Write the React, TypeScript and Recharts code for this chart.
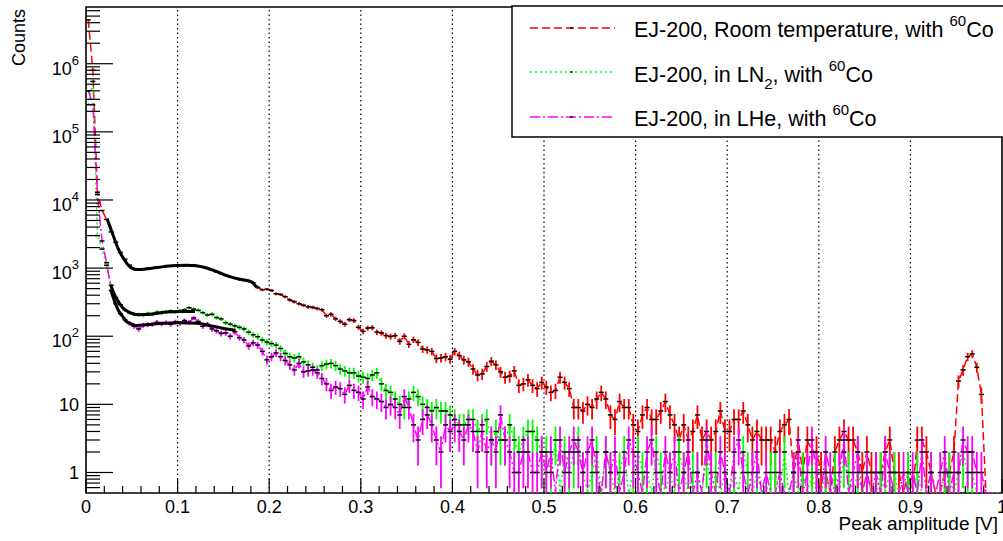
import { ErrorBar, Line, LineChart, ReferenceArea, ReferenceLine, XAxis, YAxis } from "recharts"

const BIN_WIDTH = 0.005

// EJ-200, room temperature, 60Co
const RT_COUNTS = [
  4.4e6, 8e5, 1.3e4, 7000, 5200, 3400, 2400, 1700, 1350, 1100,
  980, 950, 960, 990, 1010, 1030, 1040, 1060, 1070, 1080,
  1090, 1090, 1100, 1120, 1080, 1030, 1000, 950, 880, 830,
  780, 740, 710, 680, 660, 640, 610, 520, 480, 490,
  470, 420, 410, 380, 340, 320, 300, 285, 270, 265,
  255, 245, 200, 210, 180, 165, 150, 175, 170, 135,
  118, 132, 134, 115, 112, 102, 99, 102, 84, 100,
  76, 89, 81, 65, 63, 60, 47, 48, 50, 46,
  60, 52, 45, 42, 33, 27, 28, 36, 43, 38,
  30, 25, 26, 31, 19, 20, 23, 19, 17, 21,
  18, 15, 16, 25, 21, 17, 9, 9, 8, 10,
  9, 12, 15, 12, 7, 6, 11, 9, 9, 5,
  4, 7, 9, 6, 6, 8, 11, 7, 5, 3,
  5, 3, 4, 7, 3, 4, 3, 4, 8, 4,
  4, 6, 6, 8, 5, 3, 4, 3, 3, 3,
  2, 4, 5, 6, 1, 3, 1, 3, 2, 2,
  1, 1, 0, 2, 3, 4, 3, 3, 2, 1,
  2, 1, 1, 1, 2, 3, 1, 1, 0, 1,
  0, 3, 3, 2, 1, 0, 0, 1, 1, 2,
  22, 32, 50, 55, 35, 14, 0, 0, 0, 0,
]

// EJ-200, in LN2, 60Co
const LN2_COUNTS = [
  2.5e5, 5.5e5, 3000, 1900, 1100, 560, 370, 290, 245, 222,
  212, 207, 205, 215, 212, 225, 220, 228, 235, 228,
  238, 245, 262, 250, 240, 222, 205, 210, 188, 180,
  158, 150, 142, 135, 128, 115, 105, 98, 88, 82,
  78, 74, 66, 56, 50, 48, 50, 42, 38, 35,
  32, 37, 39, 40, 37, 33, 31, 29, 29, 26,
  25, 24, 27, 29, 20, 16, 15, 12, 10, 9,
  12, 15, 13, 10, 9, 8, 9, 8, 8, 7,
  6, 5, 5, 6, 6, 4, 5, 6, 3, 4,
  3, 3, 5, 3, 2, 3, 4, 4, 3, 2,
  2, 1, 3, 0, 2, 1, 2, 3, 1, 0,
  1, 2, 0, 2, 1, 0, 1, 2, 0, 1,
  2, 1, 1, 0, 2, 1, 0, 1, 0, 2,
  1, 0, 1, 1, 0, 2, 0, 1, 0, 1,
  0, 1, 0, 2, 1, 0, 1, 0, 0, 1,
  1, 0, 2, 0, 1, 0, 1, 0, 1, 0,
  0, 1, 0, 1, 0, 2, 1, 0, 1, 0,
  1, 0, 0, 1, 0, 1, 1, 0, 0, 1,
  0, 1, 0, 0, 1, 0, 0, 1, 1, 0,
  1, 2, 1, 1, 0, 0, 0, 0, 0, 0,
]

// EJ-200, in LHe, 60Co
const LHE_COUNTS = [
  4e5, 2.5e5, 1.2e4, 2500, 1200, 470, 300, 215, 175, 155,
  140, 128, 145, 148, 150, 160, 152, 158, 150, 162,
  155, 170, 160, 185, 165, 140, 150, 128, 120, 110,
  112, 100, 117, 95, 88, 72, 80, 74, 60, 45,
  50, 57, 50, 44, 38, 32, 40, 30, 31, 32,
  29, 24, 20, 16, 18, 17, 14, 19, 16, 15,
  12, 18, 13, 12, 11, 9, 10, 9, 7, 13,
  9, 5, 3, 6, 7, 5, 3, 2, 5, 4,
  5, 4, 3, 5, 4, 2, 4, 2, 3, 2,
  7, 3, 2, 1, 1, 2, 2, 1, 1, 2,
  1, 2, 0, 3, 1, 2, 3, 2, 1, 2,
  3, 1, 0, 2, 1, 2, 0, 1, 3, 2,
  1, 0, 2, 3, 1, 0, 2, 1, 2, 0,
  1, 2, 0, 1, 0, 3, 1, 0, 2, 1,
  0, 2, 3, 1, 0, 1, 2, 0, 1, 0,
  0, 1, 0, 0, 1, 2, 0, 1, 3, 1,
  0, 2, 1, 0, 1, 3, 0, 1, 2, 0,
  1, 0, 1, 0, 2, 1, 0, 0, 1, 0,
  1, 0, 2, 0, 1, 0, 1, 2, 0, 1,
  1, 3, 2, 2, 1, 1, 0, 0, 0, 0,
]

// fitted curves
const FIT_RT_X = [0.023, 0.027, 0.031, 0.035, 0.04, 0.045, 0.05, 0.055, 0.06, 0.07, 0.08, 0.09, 0.1, 0.11, 0.12, 0.13, 0.14, 0.15, 0.16, 0.17, 0.178, 0.182, 0.185, 0.188]
const FIT_RT_Y = [5300, 3800, 2700, 1950, 1450, 1150, 1000, 950, 955, 990, 1030, 1070, 1090, 1100, 1080, 1020, 920, 810, 730, 680, 650, 610, 550, 520]
const FIT_LN2_X = [0.027, 0.03, 0.034, 0.04, 0.048, 0.057, 0.065, 0.073, 0.088, 0.102, 0.119]
const FIT_LN2_Y = [570, 440, 345, 262, 222, 207, 208, 212, 226, 230, 230]
const FIT_LHE_X = [0.027, 0.031, 0.035, 0.04, 0.044, 0.05, 0.055, 0.066, 0.084, 0.102, 0.121, 0.139, 0.154, 0.163]
const FIT_LHE_Y = [480, 330, 245, 195, 165, 150, 144, 147, 155, 158, 155, 140, 128, 122]

const X_MAJOR = [0, 0.1, 0.2, 0.3, 0.4, 0.5, 0.6, 0.7, 0.8, 0.9, 1]
const X_LABELS = ["0", "0.1", "0.2", "0.3", "0.4", "0.5", "0.6", "0.7", "0.8", "0.9", "1"]
const GRID_X = [0.1, 0.2, 0.3, 0.4, 0.5, 0.6, 0.7, 0.8, 0.9]
const Y_DECADES = [1, 10, 100, 1e3, 1e4, 1e5, 1e6]

const Y_MIN = 0.5
const Y_MAX = 6.8e6
const FLOOR = Y_MIN // empty bins sit on the bottom of the frame

const COR = { rt: "#ff0000", ln2: "#00ff00", lhe: "#ff00ff" }
const FONT = "'Liberation Sans', Arial, Helvetica, sans-serif"

const X_TICKS = Array.from({ length: 51 }, (_, i) => i / 50)
const Y_TICKS: number[] = []
for (let k = -1; k <= 6; k++) {
  for (let m = 1; m <= 9; m++) {
    const t = m * 10 ** k
    if (t > Y_MIN && t <= Y_MAX) Y_TICKS.push(t)
  }
}

function histo(counts: number[]) {
  return counts.map((n, i) => {
    const e = Math.sqrt(n)
    const lo = Math.max(n - e, Y_MIN)
    return { x: (i + 0.5) * BIN_WIDTH, n, v: n > 0 ? n : FLOOR, err: n > 0 ? [n - lo, e] : [0, 0] }
  })
}

function fit(xs: number[], ys: number[]) {
  return xs.map((x, i) => ({ x, v: ys[i] }))
}

const rtData = histo(RT_COUNTS)
const ln2Data = histo(LN2_COUNTS)
const lheData = histo(LHE_COUNTS)

function marker(props: any) {
  const { cx, cy, payload, index } = props
  if (!payload || payload.n === 0 || cx == null || cy == null) return <g key={index} />
  return <line key={index} x1={cx - 2.5} x2={cx + 2.5} y1={cy} y2={cy} stroke="#000" strokeWidth={1.5} />
}

function XTick({ x, y, payload }: any) {
  const idx = X_MAJOR.findIndex((m) => Math.abs(m - payload.value) < 1e-9)
  const major = idx >= 0
  return (
    <g>
      <line x1={x} x2={x} y1={y} y2={y - (major ? 14 : 7)} stroke="#000" strokeWidth={1.2} />
      {major && (
        <text x={x} y={y + 20} textAnchor="middle" fontSize={18} fontFamily={FONT} fill="#000">
          {X_LABELS[idx]}
        </text>
      )}
    </g>
  )
}

function YTick({ x, y, payload }: any) {
  const v = payload.value
  const major = Y_DECADES.includes(v)
  const p = Math.round(Math.log10(v))
  return (
    <g>
      <line x1={x} x2={x + (major ? 27 : 14)} y1={y} y2={y} stroke="#000" strokeWidth={1.2} />
      {major && p < 2 && (
        <text x={x - 7} y={y + 6.5} textAnchor="end" fontSize={18} fontFamily={FONT} fill="#000">
          {p === 0 ? "1" : "10"}
        </text>
      )}
      {major && p >= 2 && (
        <text x={x - 7} y={y + 11} textAnchor="end" fontSize={18} fontFamily={FONT} fill="#000">
          10
          <tspan dy={-10} fontSize={13}>
            {p}
          </tspan>
        </text>
      )}
    </g>
  )
}

function Legenda() {
  const rows = [
    { cor: COR.rt, dash: "8 4", y: 28 },
    { cor: COR.ln2, dash: "2 3", y: 72 },
    { cor: COR.lhe, dash: "10 3 2 3", y: 117 },
  ]
  return (
    <svg width={492} height={133} style={{ position: "absolute", left: 511, top: 5 }}>
      <rect x={1} y={1} width={500} height={131} fill="#fff" stroke="#000" strokeWidth={1.5} />
      {rows.map((r, i) => (
        <g key={i}>
          <line x1={19} x2={104} y1={r.y - 5} y2={r.y - 5} stroke={r.cor} strokeWidth={1.5} strokeDasharray={r.dash} />
          <line x1={59} x2={62} y1={r.y - 5} y2={r.y - 5} stroke="#000" strokeWidth={1.2} />
        </g>
      ))}
      <g fontFamily={FONT} fontSize={21.5} fill="#000">
        <text x={123} y={32}>
          EJ-200, Room temperature, with <tspan dy={-11} fontSize={15}>60</tspan>
          <tspan dy={11}>Co</tspan>
        </text>
        <text x={123} y={77}>
          EJ-200, in LN<tspan dy={7} fontSize={15}>2</tspan>
          <tspan dy={-7}>, with </tspan>
          <tspan dy={-11} fontSize={15}>60</tspan>
          <tspan dy={11}>Co</tspan>
        </text>
        <text x={123} y={121}>
          EJ-200, in LHe, with <tspan dy={-11} fontSize={15}>60</tspan>
          <tspan dy={11}>Co</tspan>
        </text>
      </g>
    </svg>
  )
}

export default function App() {
  return (
    <div
      style={{
        position: "absolute",
        left: 0,
        top: 0,
        width: 1003,
        height: 541,
        overflow: "hidden",
        background: "#fff",
        fontFamily: FONT,
      }}
    >
      <LineChart width={1003} height={541} margin={{ top: 7, right: 1, bottom: 0, left: 0 }}>
        <XAxis
          type="number"
          dataKey="x"
          domain={[0, 1]}
          ticks={X_TICKS}
          interval={0}
          tick={<XTick />}
          tickSize={0}
          tickMargin={0}
          axisLine={false}
          tickLine={false}
          height={48}
          allowDataOverflow
          label={{
            content: ({ viewBox }: any) => (
              <text x={viewBox.x + viewBox.width - 4} y={viewBox.y + 37} textAnchor="end" fontSize={19} fontFamily={FONT} fill="#000">
                Peak amplitude [V]
              </text>
            ),
          }}
        />
        <YAxis
          type="number"
          scale="log"
          domain={[Y_MIN, Y_MAX]}
          allowDataOverflow
          ticks={Y_TICKS}
          interval={0}
          tick={<YTick />}
          tickSize={0}
          tickMargin={0}
          axisLine={false}
          tickLine={false}
          width={86}
          label={{
            content: ({ viewBox }: any) => (
              <text
                x={25}
                y={viewBox.y + 2}
                textAnchor="end"
                fontSize={18}
                fontFamily={FONT}
                fill="#000"
                transform={`rotate(-90, 25, ${viewBox.y + 2})`}
              >
                Counts
              </text>
            ),
          }}
        />
        <ReferenceArea x1={0} x2={1} y1={Y_MIN} y2={Y_MAX} fill="none" stroke="#000" strokeWidth={1.6} ifOverflow="visible" />
        {GRID_X.map((g) => (
          <ReferenceLine key={g} x={g} stroke="#000" strokeWidth={1.2} strokeDasharray="1.5 3" />
        ))}
        <Line data={rtData} dataKey="v" type="linear" stroke={COR.rt} strokeWidth={1.5} strokeDasharray="8 4" dot={marker} activeDot={false} isAnimationActive={false}>
          <ErrorBar dataKey="err" direction="y" width={0} stroke={COR.rt} strokeWidth={1.8} isAnimationActive={false} />
        </Line>
        <Line data={ln2Data} dataKey="v" type="linear" stroke={COR.ln2} strokeWidth={1.5} strokeDasharray="2 3" dot={marker} activeDot={false} isAnimationActive={false}>
          <ErrorBar dataKey="err" direction="y" width={0} stroke={COR.ln2} strokeWidth={1.8} isAnimationActive={false} />
        </Line>
        <Line data={lheData} dataKey="v" type="linear" stroke={COR.lhe} strokeWidth={1.5} strokeDasharray="10 3 2 3" dot={marker} activeDot={false} isAnimationActive={false}>
          <ErrorBar dataKey="err" direction="y" width={0} stroke={COR.lhe} strokeWidth={1.8} isAnimationActive={false} />
        </Line>
        <Line data={fit(FIT_RT_X, FIT_RT_Y)} dataKey="v" type="monotone" stroke="#000" strokeWidth={3} dot={false} activeDot={false} isAnimationActive={false} />
        <Line data={fit(FIT_LN2_X, FIT_LN2_Y)} dataKey="v" type="monotone" stroke="#000" strokeWidth={3} dot={false} activeDot={false} isAnimationActive={false} />
        <Line data={fit(FIT_LHE_X, FIT_LHE_Y)} dataKey="v" type="monotone" stroke="#000" strokeWidth={3} dot={false} activeDot={false} isAnimationActive={false} />
      </LineChart>
      <Legenda />
    </div>
  )
}
